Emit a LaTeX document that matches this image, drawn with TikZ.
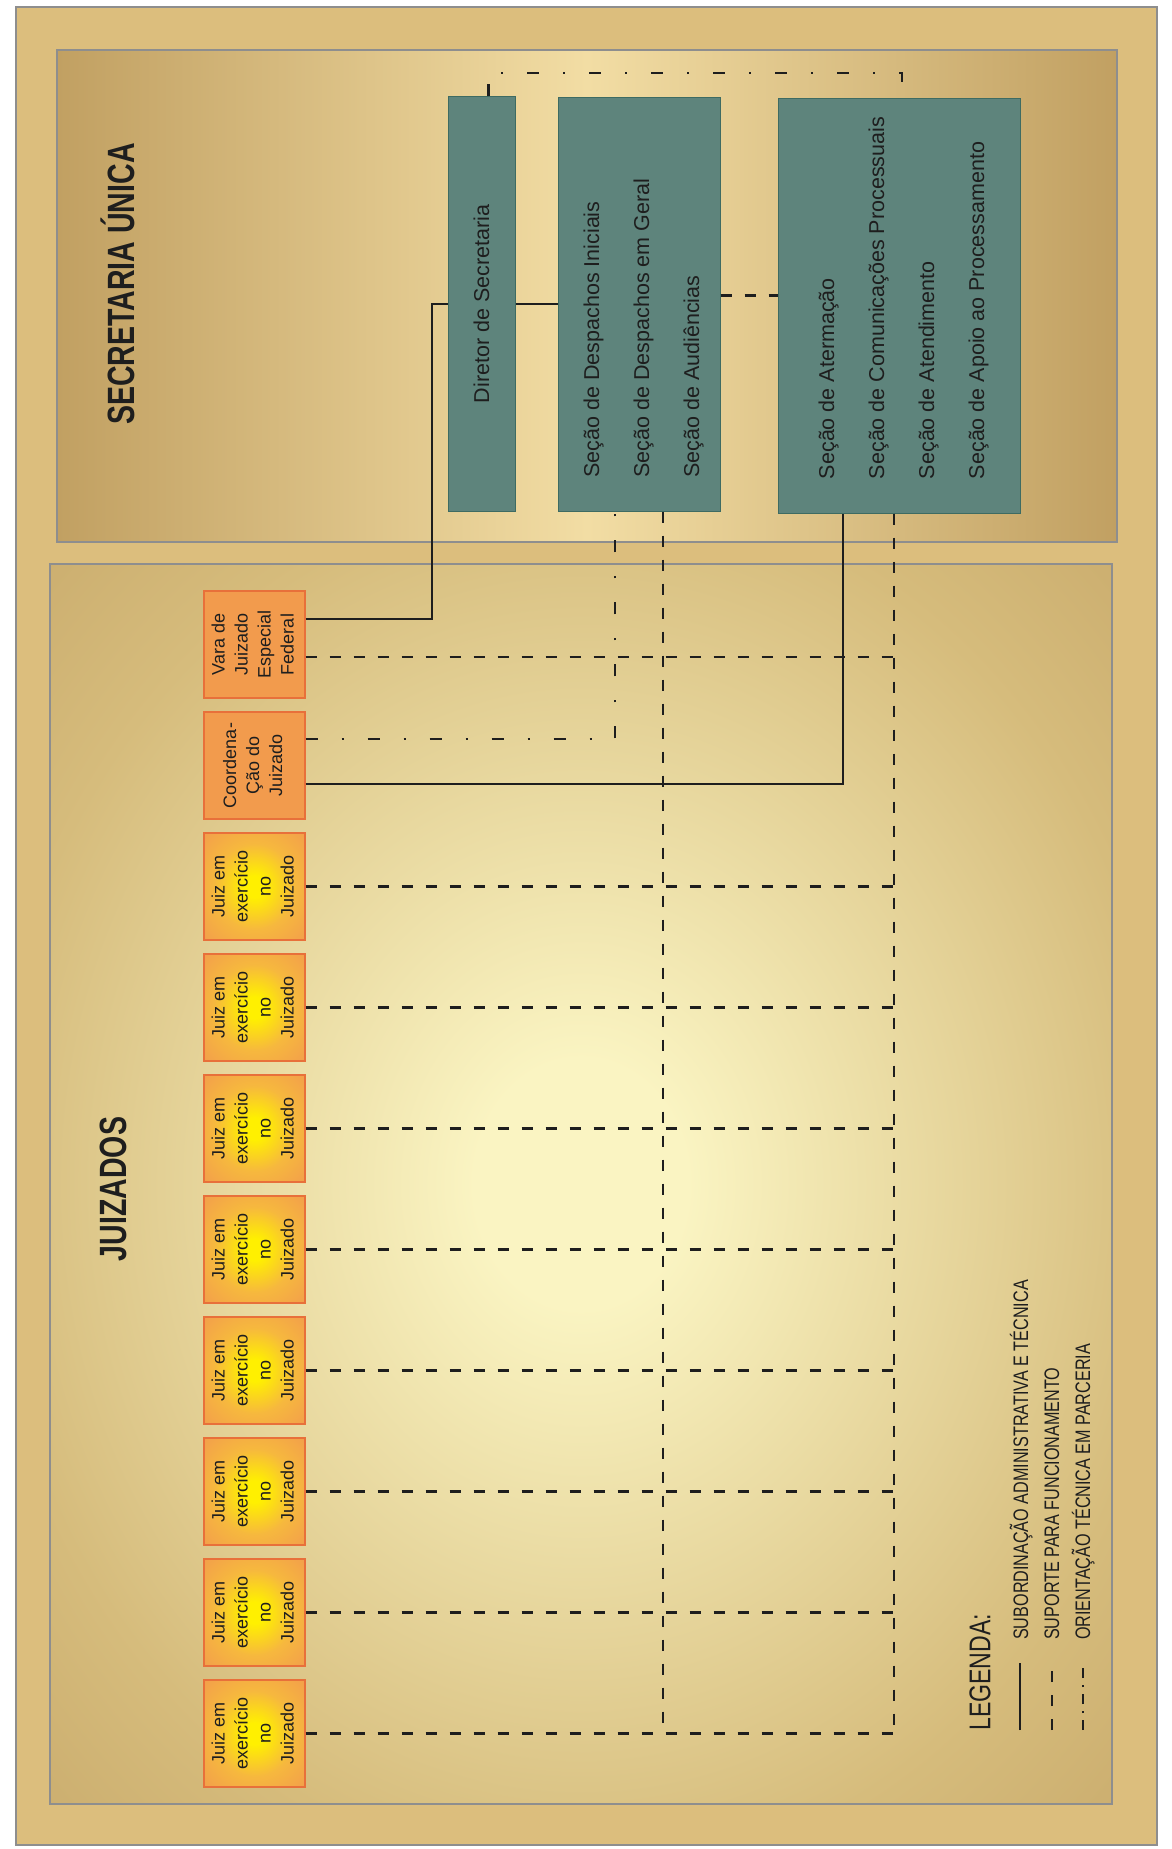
\documentclass[tikz,border=0pt]{standalone}
\usepackage{fontspec}
\usepackage{graphicx}
\setmainfont{Liberation Sans}
\newfontfamily\condfont[FakeStretch=0.77]{Liberation Sans}
\newfontfamily\headfont[FakeStretch=0.75]{Liberation Sans}

\definecolor{bgouter}{HTML}{DCBE7D}
\definecolor{panelgray}{HTML}{8E8E8E}
\definecolor{tanedge}{HTML}{C1A062}
\definecolor{tanmid}{HTML}{D6BC7C}
\definecolor{tanlight}{HTML}{F2DDA4}
\definecolor{glow}{HTML}{FAF4C2}
\definecolor{tealfill}{HTML}{5E847C}
\definecolor{tealline}{HTML}{3E6B62}
\definecolor{orfill}{HTML}{F29B4D}
\definecolor{orline}{HTML}{E8703A}
\definecolor{juizin}{HTML}{FFF000}
\definecolor{juizmid}{HTML}{F6B83E}
\definecolor{ink}{HTML}{1E1E1E}

\pgfdeclareradialshading{panelglow}{\pgfpoint{0bp}{0bp}}{color(0bp)=(glow); color(5bp)=(glow); color(28bp)=(tanmid); color(44bp)=(tanedge); color(50bp)=(tanedge)}
\pgfdeclareradialshading{juizglow}{\pgfpoint{0bp}{0bp}}{color(0bp)=(juizin); color(5bp)=(juizin); color(20bp)=(juizmid); color(38bp)=(orfill); color(50bp)=(orfill)}

\newcommand{\seclines}[1]{\rotatebox{90}{\makebox[346pt][l]{\begin{tabular}{@{}l@{}}#1\end{tabular}}}}
\newcommand{\boxlines}[1]{\rotatebox{90}{\begin{tabular}{@{}c@{}}#1\end{tabular}}}
\newcommand{\juiztext}{\boxlines{Juiz em\\exercício\\no\\Juizado}}

\tikzset{
	panel/.style={draw=panelgray, line width=2.5pt},
	secbox/.style={draw=tealline, line width=1pt, fill=tealfill, text=ink, inner sep=0pt, font=\fontsize{21.5}{50}\selectfont},
	orbox/.style={draw=orline, line width=1.2pt, fill=orfill, minimum width=101pt, minimum height=107pt, inner sep=0pt, text=ink, font=\fontsize{18}{23}\selectfont},
	juizbox/.style={orbox, shading=juizglow},
	sub/.style={draw=ink, line width=2.2pt},
	sup/.style={draw=ink, line width=2.2pt, dash pattern=on 11pt off 13pt},
	ori/.style={draw=ink, line width=2.2pt, dash pattern=on 12pt off 24pt on 2pt off 24pt},
	legtext/.style={rotate=90, anchor=west, inner sep=0pt, text=ink, font={\condfont\fontsize{21}{23}\selectfont}},
}

\begin{document}
\begin{tikzpicture}[x=1pt, y=-1pt]
	\useasboundingbox (0,0) rectangle (1171,1849);
	\fill[white] (0,0) rectangle (1171,1849);
	\draw[panel, fill=bgouter] (16,7) rectangle (1157,1845);
	\draw[panel, left color=tanedge, right color=tanedge, middle color=tanlight] (57,50) rectangle (1117,542);
	\draw[panel, shading=panelglow] (50,564) rectangle (1112,1804);

	\node[rotate=90, text=ink, font={\headfont\bfseries\fontsize{38}{40}\selectfont}] (sectitle) at (118,284) {SECRETARIA ÚNICA};
	\node[rotate=90, text=ink, font={\headfont\bfseries\fontsize{38}{40}\selectfont}] (juiztitle) at (113,1189) {JUIZADOS};

	\node[secbox, minimum width=67pt, minimum height=414pt] (dir) at (481.5,304) {\rotatebox{90}{Diretor de Secretaria}};
	\node[secbox, minimum width=162pt, minimum height=413pt] (desp) at (639,304.5) {\seclines{Seção de Despachos Iniciais\\Seção de Despachos em Geral\\Seção de Audiências}};
	\node[secbox, minimum width=242pt, minimum height=414pt] (aten) at (899,306) {\seclines{Seção de Atermação\\Seção de Comunicações Processuais\\Seção de Atendimento\\Seção de Apoio ao Processamento}};

	\node[orbox] (vara) at (254.5,644.5) {\boxlines{Vara de\\Juizado\\Especial\\Federal}};
	\node[orbox] (coord) at (254.5,765.5) {\boxlines{Coordena-\\Ção do\\Juizado}};
	\node[juizbox] (j1) at (254.5,886.5) {\juiztext};
	\node[juizbox] (j2) at (254.5,1007.5) {\juiztext};
	\node[juizbox] (j3) at (254.5,1128.5) {\juiztext};
	\node[juizbox] (j4) at (254.5,1249.5) {\juiztext};
	\node[juizbox] (j5) at (254.5,1370.5) {\juiztext};
	\node[juizbox] (j6) at (254.5,1491.5) {\juiztext};
	\node[juizbox] (j7) at (254.5,1612.5) {\juiztext};
	\node[juizbox] (j8) at (254.5,1733.5) {\juiztext};

	\coordinate (bend) at (432,0);
	\coordinate (topdd) at (902,73);
	\coordinate (sup2) at ([xshift=24pt]desp.south);
	\coordinate (sup3) at ([xshift=-5pt]aten.south);

	\draw[sub] ([yshift=25.5pt]vara.east) -| (bend |- dir.west) -- (dir.west);
	\draw[sub] (dir.east) -- (dir.east -| desp.west);
	\draw[sub] ([yshift=-18.5pt]coord.east) -| ([xshift=-56pt]aten.south);
	\draw[sup] ([yshift=9pt]desp.east) -- ([yshift=9pt]desp.east -| aten.west);
	\draw[ori] ([yshift=26.5pt]coord.east) -| ([xshift=-24pt]desp.south);
	\draw[ori] ([xshift=7pt]dir.north) |- (topdd) -| ([xshift=3pt]aten.north);

	\draw[sup] (sup2) -- (sup2 |- j8.east);
	\draw[sup] (sup3) -- (sup3 |- j8.east);
	\draw[sup] ([yshift=-12.5pt]vara.east) -- ([yshift=-12.5pt]vara.east -| sup3);
	\draw[sup] (j1.east) -- (j1.east -| sup3);
	\draw[sup] (j2.east) -- (j2.east -| sup3);
	\draw[sup] (j3.east) -- (j3.east -| sup3);
	\draw[sup] (j4.east) -- (j4.east -| sup3);
	\draw[sup] (j5.east) -- (j5.east -| sup3);
	\draw[sup] (j6.east) -- (j6.east -| sup3);
	\draw[sup] (j7.east) -- (j7.east -| sup3);
	\draw[sup] (j8.east) -- (j8.east -| sup3);

	\node[legtext, font={\condfont\fontsize{30}{32}\selectfont}] (legtitle) at (980,1731) {LEGENDA:};
	\node[legtext] (leg1) at (1021,1640) {SUBORDINAÇÃO ADMINISTRATIVA E TÉCNICA};
	\node[legtext] (leg2) at (1052,1640) {SUPORTE PARA FUNCIONAMENTO};
	\node[legtext] (leg3) at (1083,1640) {ORIENTAÇÃO TÉCNICA EM PARCERIA};
	\coordinate (l1a) at (1020,1730);
	\coordinate (l1b) at (1020,1663);
	\coordinate (l2a) at (1052,1730);
	\coordinate (l2b) at (1052,1663);
	\coordinate (l3a) at (1083,1730);
	\coordinate (l3b) at (1083,1663);
	\draw[sub] (l1a) -- (l1b);
	\draw[sup] (l2a) -- (l2b);
	\draw[ori, dash pattern=on 10pt off 7pt on 2pt off 7pt] (l3a) -- (l3b);
\end{tikzpicture}
\end{document}
